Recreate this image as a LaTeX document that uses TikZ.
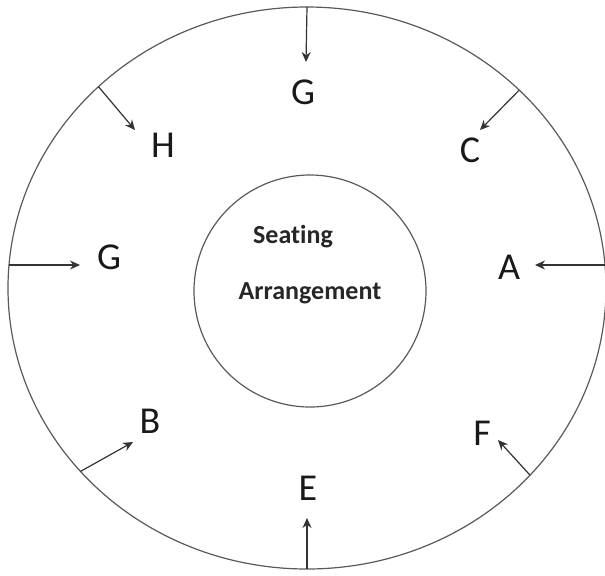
\documentclass[tikz,border=0pt]{standalone}
\usepackage{fontspec}
\setmainfont{Carlito}[Ligatures=CommonOff]
\usetikzlibrary{arrows.meta,shapes.geometric}

\begin{document}
\begin{tikzpicture}[x=0.5pt, y=-0.5pt, >={Stealth[length=5pt,width=4.5pt]},
  ring/.style={draw=black!65, line width=0.6pt, inner sep=0pt, outer sep=0pt},
  seat/.style={font=\fontsize{19}{22}\selectfont, text=black!90, inner sep=0pt, anchor=base},
  title/.style={font=\fontsize{13}{16}\selectfont\bfseries, text=black!85, inner sep=0pt, anchor=base},
  ptr/.style={->, draw=black!80, line width=0.6pt}]
\useasboundingbox (0,0) rectangle (605,575);
% the two rings
\node[ring, ellipse, minimum width=299pt, minimum height=281pt] (outer) at (307,288) {};
\node[ring, circle, minimum size=116pt] (inner) at (310,291) {};
% centre text
\node[title] (seating) at (293,243) {Seating};
\node[title] (arrange) at (310,299) {Arrangement};
% seats round the table
\node[seat] (gtop) at (303,104) {G};
\node[seat] (h) at (163,157) {H};
\node[seat] (c) at (470,162) {C};
\node[seat] (gleft) at (109,269) {G};
\node[seat] (a) at (509,279) {A};
\node[seat] (b) at (150,433) {B};
\node[seat] (f) at (482,445) {F};
\node[seat] (e) at (308,500) {E};
% arrow tips
\coordinate (tgtop) at (306,62);
\coordinate (th) at (135,130);
\coordinate (tc) at (480,130);
\coordinate (tgleft) at (80,265);
\coordinate (ta) at (535,265);
\coordinate (tb) at (133,442);
\coordinate (tf) at (498,440);
\coordinate (te) at (307,518);
% pointers from the rim
\draw[ptr] (outer.north) -- (tgtop);
\draw[ptr] (outer.136) -- (th);
\draw[ptr] (outer.43) -- (tc);
\draw[ptr] (outer.176 |- tgleft) -- (tgleft);
\draw[ptr] (outer.4 |- ta) -- (ta);
\draw[ptr] (outer.219) -- (tb);
\draw[ptr] (outer.320) -- (tf);
\draw[ptr] (outer.south) -- (te);
\end{tikzpicture}
\end{document}
